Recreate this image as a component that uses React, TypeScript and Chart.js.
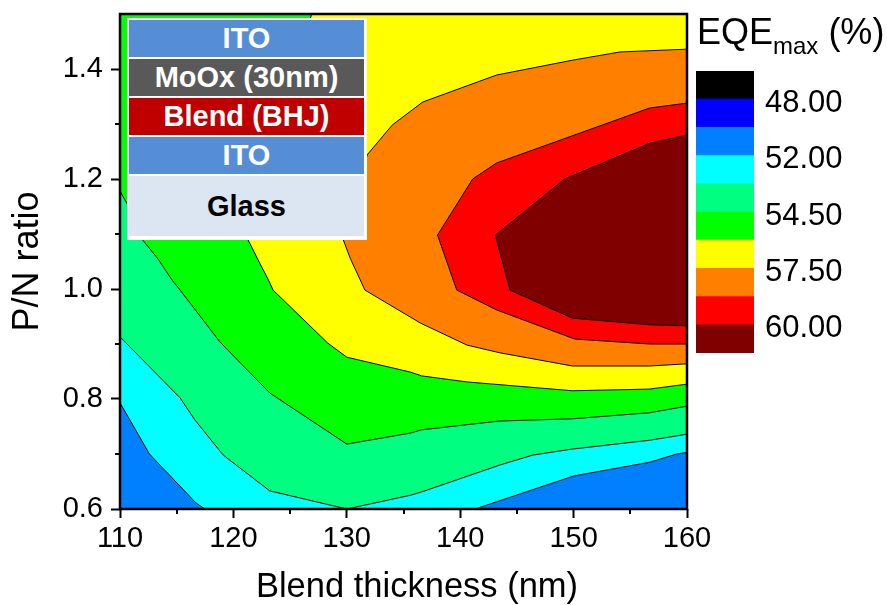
import React, { useEffect, useRef } from 'react';
import { Chart, registerables } from 'chart.js';
Chart.register(...registerables);

const FONT = "'Liberation Sans', Arial, Helvetica, sans-serif";

// axis ranges and ticks
const X_MIN = 110, X_MAX = 160, Y_MIN = 0.6, Y_MAX = 1.5;
const X_TICKS = [110, 120, 130, 140, 150, 160];
const X_MINOR = [115, 125, 135, 145, 155];
const Y_TICKS = [0.6, 0.8, 1.0, 1.2, 1.4];
const Y_MINOR = [0.7, 0.9, 1.1, 1.3];
const X_TITLE = 'Blend thickness (nm)';
const Y_TITLE = 'P/N ratio';

// contour lines: [blend thickness (nm), P/N ratio]
const C1_LEFT = [[110, 0.793], [112.6, 0.70], [116.7, 0.611], [117.5, 0.6]];
const C1_RIGHT = [[141.3, 0.6], [150, 0.66], [156.7, 0.685], [159.1, 0.70], [160, 0.703]];
const C2 = [[110, 0.913], [115.3, 0.802], [116.6, 0.762], [119.1, 0.698], [123.2, 0.633], [130, 0.6],
  [135.6, 0.625], [136.6, 0.631], [143.5, 0.68], [146.4, 0.698], [149.9, 0.709], [156.7, 0.725], [160, 0.736]];
const C3 = [[110, 1.178], [110.6, 1.156], [112, 1.089], [113.3, 1.056], [114.6, 1.016], [115.3, 0.998],
  [118.8, 0.904], [123.2, 0.811], [130, 0.718], [135.6, 0.738], [136.6, 0.744], [143.5, 0.76],
  [149.9, 0.764], [156.7, 0.775], [160, 0.787]];
const C4 = [[126.9, 1.5], [121.3, 1.089], [122.1, 1.056], [123.1, 1.016], [123.5, 0.998], [128.3, 0.902],
  [130, 0.876], [135.6, 0.849], [136.6, 0.842], [140.6, 0.831], [149.9, 0.815], [156.7, 0.818], [160, 0.827]];
const C5 = [[160, 1.436], [154.1, 1.431], [149.9, 1.416], [143.2, 1.389], [136.7, 1.34], [134.0, 1.298],
  [131.8, 1.244], [129.7, 1.089], [130.3, 1.056], [131.6, 0.998], [136.5, 0.938], [140.6, 0.898],
  [143.5, 0.884], [149.9, 0.86], [156.7, 0.86], [160, 0.864]];
const C6 = [[160, 1.338], [156.7, 1.329], [143.2, 1.229], [141.1, 1.2], [138.0, 1.098], [139.7, 0.998],
  [143.2, 0.962], [150.1, 0.909], [156.7, 0.9], [160, 0.9]];
const C7 = [[160, 1.28], [156.7, 1.265], [149.2, 1.2], [143.1, 1.098], [144.4, 0.998], [149.9, 0.947],
  [156.7, 0.935], [160, 0.933]];

// fill colours from the lowest band upward
const FILL_COLORS = ['#0080FF', '#00FFFF', '#00FF80', '#00FF00', '#FFFF00', '#FF8000', '#FF0000', '#800000'];

// colour bar (top to bottom)
const CB_COLORS = ['#000000', '#0000FF', '#0080FF', '#00FFFF', '#00FF80', '#00FF00', '#FFFF00', '#FF8000', '#FF0000', '#800000'];
const CB_LABELS = ['48.00', '52.00', '54.50', '57.50', '60.00'];
const CB_TICK_AT = [9, 7, 5, 3, 1];

// device stack inset
const STACK_LAYERS = ['ITO', 'MoOx (30nm)', 'Blend (BHJ)', 'ITO', 'Glass'];
const STACK_COLORS = ['#558ED5', '#595959', '#C00000', '#558ED5', '#DCE6F2'];
const STACK_TEXT = ['#FFFFFF', '#FFFFFF', '#FFFFFF', '#FFFFFF', '#000000'];
const STACK_HEIGHTS = [37, 37, 37, 37, 60];

const framePlugin = {
  id: 'frame',
  afterDatasetsDraw(chart: any) {
    const { ctx, chartArea: a, scales } = chart;
    ctx.save();
    ctx.strokeStyle = '#000';
    ctx.lineWidth = 2.5;
    ctx.strokeRect(a.left, a.top, a.right - a.left, a.bottom - a.top);
    ctx.lineWidth = 2;
    X_MINOR.forEach((v) => {
      const px = Math.round(scales.x.getPixelForValue(v));
      ctx.beginPath();
      ctx.moveTo(px, a.bottom);
      ctx.lineTo(px, a.bottom + 5);
      ctx.stroke();
    });
    Y_MINOR.forEach((v) => {
      const py = Math.round(scales.y.getPixelForValue(v));
      ctx.beginPath();
      ctx.moveTo(a.left, py);
      ctx.lineTo(a.left - 5, py);
      ctx.stroke();
    });
    ctx.restore();
  },
};

export default function App() {
  const mainRef = useRef<HTMLCanvasElement>(null);
  const barRef = useRef<HTMLCanvasElement>(null);

  useEffect(() => {
    const corner = [[X_MAX, Y_MAX], [X_MIN, Y_MAX]];
    const regions = [
      [[X_MIN, Y_MIN], [X_MAX, Y_MIN], [X_MAX, Y_MAX], [X_MIN, Y_MAX]],
      [...C1_LEFT, ...C1_RIGHT, ...corner],
      [...C2, ...corner],
      [...C3, ...corner],
      [...C4, [X_MAX, Y_MAX]],
      C5,
      C6,
      C7,
    ];
    const datasets = regions.map((pts, i) => ({
      type: 'line' as const,
      data: pts.map(([x, y]) => ({ x, y })),
      fill: 'shape',
      backgroundColor: FILL_COLORS[i],
      borderColor: '#000000',
      borderWidth: i === 0 ? 0 : 1,
      pointRadius: 0,
      tension: 0,
      order: regions.length - i,
    }));

    const main = new Chart(mainRef.current!, {
      type: 'line',
      data: { datasets: datasets as any },
      options: {
        responsive: false,
        animation: false,
        devicePixelRatio: 1,
        layout: { padding: { left: 0, top: 14, right: 200, bottom: 0 } },
        plugins: { legend: { display: false }, tooltip: { enabled: false } },
        scales: {
          x: {
            type: 'linear',
            min: X_MIN,
            max: X_MAX,
            afterBuildTicks: (s: any) => { s.ticks = X_TICKS.map((v) => ({ value: v })); },
            afterFit: (s: any) => { s.height = 96; s.paddingLeft = 0; s.paddingRight = 0; },
            grid: { display: true, drawOnChartArea: false, drawTicks: true, tickLength: 9, tickWidth: 2, tickColor: '#000' },
            border: { display: false },
            ticks: { color: '#000', font: { family: FONT, size: 29 }, padding: 4, maxRotation: 0, autoSkip: false, callback: (v: any) => String(v) },
            title: { display: false },
          },
          y: {
            type: 'linear',
            min: Y_MIN,
            max: Y_MAX,
            afterBuildTicks: (s: any) => { s.ticks = Y_TICKS.map((v) => ({ value: v })); },
            afterFit: (s: any) => { s.width = 120; s.paddingTop = 0; s.paddingBottom = 0; },
            grid: { display: true, drawOnChartArea: false, drawTicks: true, tickLength: 9, tickWidth: 2, tickColor: '#000' },
            border: { display: false },
            ticks: { color: '#000', font: { family: FONT, size: 29 }, padding: 8, autoSkip: false, callback: (v: any) => Number(v).toFixed(1) },
            title: { display: true, text: Y_TITLE, color: '#000', font: { family: FONT, size: 36 }, padding: { top: 6, bottom: 0 } },
          },
        },
      } as any,
      plugins: [framePlugin],
    });

    const bar = new Chart(barRef.current!, {
      type: 'bar',
      data: {
        labels: [''],
        datasets: CB_COLORS.slice().reverse().map((c) => ({
          data: [1],
          backgroundColor: c,
          borderWidth: 0,
          barPercentage: 1,
          categoryPercentage: 1,
        })),
      },
      options: {
        responsive: false,
        animation: false,
        devicePixelRatio: 1,
        layout: { padding: { top: 24, bottom: 24, left: 0, right: 0 } },
        plugins: { legend: { display: false }, tooltip: { enabled: false } },
        scales: {
          x: { display: false, stacked: true },
          y: {
            stacked: true,
            position: 'right',
            min: 0,
            max: 10,
            afterBuildTicks: (s: any) => { s.ticks = CB_TICK_AT.map((v) => ({ value: v })); },
            afterFit: (s: any) => { s.width = 132; s.paddingTop = 0; s.paddingBottom = 0; },
            grid: { display: false, drawTicks: false, tickLength: 0 },
            border: { display: false },
            ticks: {
              color: '#000',
              font: { family: FONT, size: 31 },
              padding: 11,
              labelOffset: 4,
              callback: (v: any) => CB_LABELS[CB_TICK_AT.indexOf(Number(v))],
            },
          },
        },
      } as any,
    });

    return () => { main.destroy(); bar.destroy(); };
  }, []);

  let y = 20;
  const layers = STACK_LAYERS.map((name, i) => {
    const top = y;
    y += STACK_HEIGHTS[i] + 2;
    return (
      <div key={i} style={{
        position: 'absolute', left: 129, top, width: 235, height: STACK_HEIGHTS[i],
        background: STACK_COLORS[i], color: STACK_TEXT[i], fontFamily: FONT, fontWeight: 'bold',
        fontSize: 29, lineHeight: `${STACK_HEIGHTS[i]}px`, textAlign: 'center', whiteSpace: 'nowrap',
      }}>{name}</div>
    );
  });

  return (
    <div style={{ position: 'fixed', left: 0, top: 0, width: 887, height: 605, background: '#fff', overflow: 'hidden' }}>
      <canvas ref={mainRef} width={887} height={605} style={{ position: 'absolute', left: 0, top: 0 }} />
      <canvas ref={barRef} width={190} height={330} style={{ position: 'absolute', left: 696, top: 47 }} />
      <div style={{ position: 'absolute', left: 127, top: 18, width: 240, height: 222, background: '#fff' }} />
      {layers}
      <div style={{ position: 'absolute', left: 217, top: 568, width: 400, textAlign: 'center', fontFamily: FONT, fontSize: 34.5, lineHeight: '34px', color: '#000', whiteSpace: 'nowrap' }}>
        {X_TITLE}
      </div>
      <div style={{ position: 'absolute', left: 697, top: 14, fontFamily: FONT, fontSize: 36, lineHeight: '36px', color: '#000', whiteSpace: 'nowrap' }}>
        EQE<span style={{ fontSize: 24, position: 'relative', top: 10 }}>max</span> (%)
      </div>
    </div>
  );
}
